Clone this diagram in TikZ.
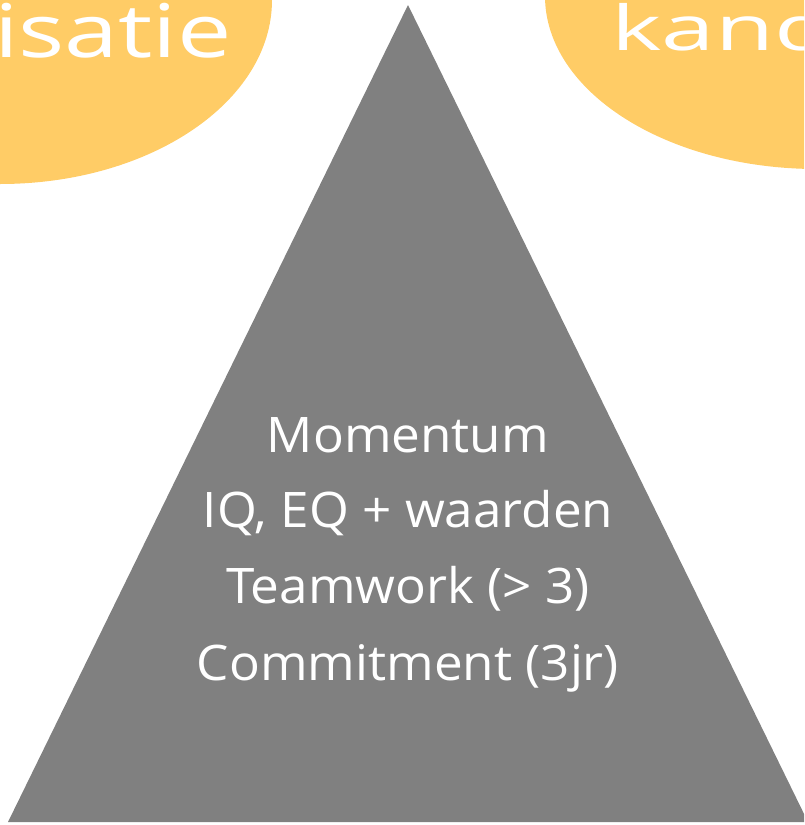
\documentclass[tikz,border=0pt]{standalone}
\usepackage{fontspec}
\setmainfont{Open Sans}
\newfontfamily\pyrfont[FakeStretch=1.045]{Open Sans}
\newfontfamily\orgfont[FakeStretch=1.31]{Open Sans}
\newfontfamily\kandfont[FakeStretch=1.55]{Open Sans}
\definecolor{blobyellow}{HTML}{FFCC66}
\definecolor{pyrgray}{HTML}{808080}
\begin{document}
\begin{tikzpicture}[x=1pt,y=-1pt,
  blob/.style={fill=blobyellow,draw=none},
  bigword/.style={text=white,inner sep=0pt},
  pyrtext/.style={text=white,font=\pyrfont\fontsize{49}{76}\selectfont,inner sep=0pt}]
\useasboundingbox (0,0) rectangle (804,825);
\clip (0,0) rectangle (804,825);
\fill[blob] (0,0) ellipse [x radius=272, y radius=184];
\fill[blob] (817,-4) ellipse [x radius=272, y radius=173];
\node[bigword,font=\orgfont\fontsize{74}{74}\selectfont,anchor=base east] (org) at (232,57) {organisatie};
\node[bigword,font=\kandfont\fontsize{62}{62}\selectfont,anchor=base west] (kand) at (611,50) {kandidaat};
\coordinate (apex) at (408,5);
\coordinate (bl) at (8,822);
\coordinate (br) at (808,822);
\fill[pyrgray] (apex) -- (bl) -- (br) -- cycle;
\node[pyrtext,anchor=base] (l1) at (408,452) {Momentum};
\node[pyrtext,anchor=base] (l2) at (408,527) {IQ, EQ + waarden};
\node[pyrtext,anchor=base] (l3) at (408,603) {Teamwork (> 3)};
\node[pyrtext,anchor=base] (l4) at (408,680) {Commitment (3jr)};
\end{tikzpicture}
\end{document}
